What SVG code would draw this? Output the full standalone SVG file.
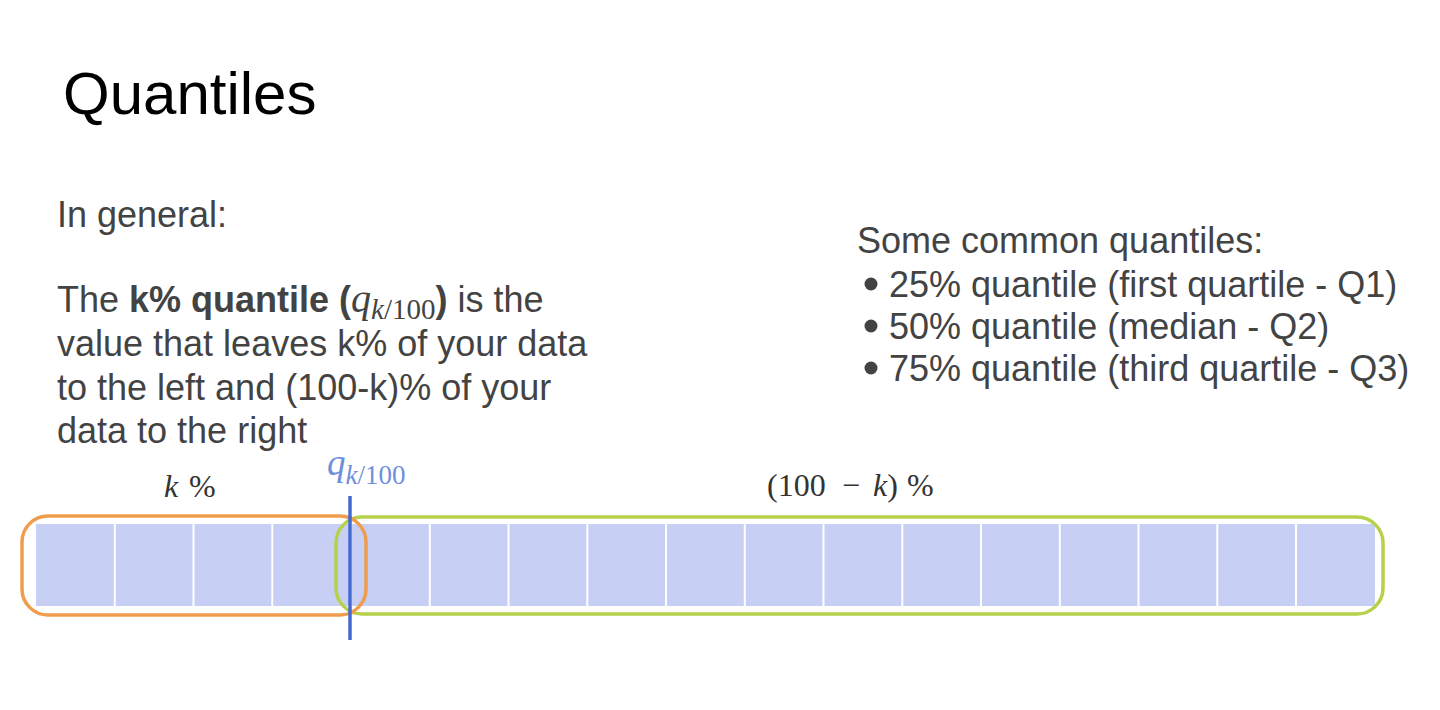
<svg xmlns="http://www.w3.org/2000/svg" width="1440" height="710" viewBox="0 0 1440 710">
  <style>
    .title { font-family: "Liberation Sans", Arial, sans-serif; font-size: 60px; fill: #000; }
    .body { font-family: "Liberation Sans", Arial, sans-serif; font-size: 36px; fill: #434343; }
    .math { font-family: "Liberation Serif", "Times New Roman", serif; }
    .mlabel { font-family: "Liberation Serif", "Times New Roman", serif; font-size: 32px; fill: #333; }
    .qlabel { font-family: "Liberation Serif", "Times New Roman", serif; fill: #6f8fdc; }
    .cell-div { stroke: #ffffff; stroke-width: 2; }
    .bracket { fill: none; stroke-width: 3.5; }
  </style>
  <rect x="0" y="0" width="1440" height="710" fill="#ffffff"/>

  <g id="title">
    <text class="title" x="63" y="114">Quantiles</text>
  </g>

  <g id="definition">
    <text class="body" x="57" y="227">In general:</text>
    <text class="body" x="57" y="312">The <tspan font-weight="bold">k% quantile (</tspan><tspan class="math" font-style="italic" font-size="40">q</tspan><tspan class="math" font-style="italic" font-size="29" dy="7">k</tspan><tspan class="math" font-size="29">/100</tspan><tspan font-weight="bold" dy="-7">)</tspan> is the</text>
    <text class="body" x="57" y="356">value that leaves k% of your data</text>
    <text class="body" x="57" y="400">to the left and (100-k)% of your</text>
    <text class="body" x="57" y="443">data to the right</text>
  </g>

  <g id="common-quantiles">
    <text class="body" x="857" y="253">Some common quantiles:</text>
    <circle cx="871" cy="284" r="6.5" fill="#434343"/>
    <text class="body" x="889" y="297">25% quantile (first quartile - Q1)</text>
    <circle cx="871" cy="326" r="6.5" fill="#434343"/>
    <text class="body" x="889" y="339">50% quantile (median - Q2)</text>
    <circle cx="871" cy="368" r="6.5" fill="#434343"/>
    <text class="body" x="889" y="381">75% quantile (third quartile - Q3)</text>
  </g>

  <g id="data-bar">
    <rect x="36" y="524" width="1339" height="82" fill="#c7cff5"/>
    <g class="cell-div">
      <line x1="114.8" y1="524" x2="114.8" y2="606"/>
      <line x1="193.5" y1="524" x2="193.5" y2="606"/>
      <line x1="272.3" y1="524" x2="272.3" y2="606"/>
      <line x1="351" y1="524" x2="351" y2="606"/>
      <line x1="429.8" y1="524" x2="429.8" y2="606"/>
      <line x1="508.5" y1="524" x2="508.5" y2="606"/>
      <line x1="587.3" y1="524" x2="587.3" y2="606"/>
      <line x1="666" y1="524" x2="666" y2="606"/>
      <line x1="744.8" y1="524" x2="744.8" y2="606"/>
      <line x1="823.5" y1="524" x2="823.5" y2="606"/>
      <line x1="902.3" y1="524" x2="902.3" y2="606"/>
      <line x1="981" y1="524" x2="981" y2="606"/>
      <line x1="1059.8" y1="524" x2="1059.8" y2="606"/>
      <line x1="1138.5" y1="524" x2="1138.5" y2="606"/>
      <line x1="1217.3" y1="524" x2="1217.3" y2="606"/>
      <line x1="1296" y1="524" x2="1296" y2="606"/>
    </g>
  </g>

  <g id="right-group">
    <rect class="bracket" x="336" y="517" width="1047" height="97" rx="26" stroke="#b6d14a"/>
  </g>
  <g id="left-group">
    <rect class="bracket" x="22" y="516" width="344" height="99" rx="26" stroke="#ef9d4c"/>
  </g>

  <g id="connectors">
    <line x1="350" y1="496" x2="350" y2="640" stroke="#4468d2" stroke-width="3.5"/>
  </g>

  <g id="labels">
    <text class="mlabel" x="164" y="497"><tspan font-style="italic">k</tspan><tspan x="189">%</tspan></text>
    <text class="qlabel" x="327" y="475"><tspan font-style="italic" font-size="37">q</tspan><tspan font-style="italic" font-size="27" dy="9">k</tspan><tspan font-size="27">/100</tspan></text>
    <text class="mlabel" x="767" y="496">(100<tspan x="842">−</tspan><tspan x="873" font-style="italic">k</tspan>)<tspan x="907">%</tspan></text>
  </g>
</svg>
